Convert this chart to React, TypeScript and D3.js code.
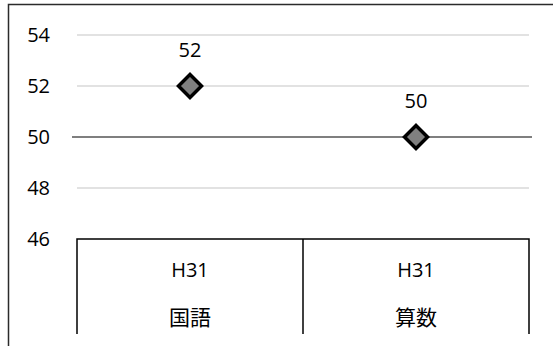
import React from 'react';
import { scaleBand, scaleLinear } from 'd3';

const years = ['H31', 'H31'];
const subjects = ['国語', '算数'];
const scores = [52, 50];
const yTicks = [46, 48, 50, 52, 54];

const W = 553;
const H = 346;
const font = "'Open Sans','Noto Sans CJK JP',sans-serif";
const cjk = "'Noto Sans CJK JP',sans-serif";

export default function App() {
  const keys = subjects.map((s, i) => `${i}`);
  const x = scaleBand().domain(keys).range([77, 529]).padding(0);
  const y = scaleLinear().domain([46, 54]).range([239, 35]);
  const boxTop = y(46);
  const boxBottom = 334;

  return (
    <svg width={W} height={H} style={{ position: 'absolute', left: 0, top: 0, background: '#fff' }}>
      <rect x={8.5} y={4.5} width={W + 10} height={H + 10} fill="#fff" stroke="#2b2b2b" strokeWidth={1.5} />
      {/* gridlines */}
      {yTicks.filter(t => t !== 46).map(t => (
        <line key={t} x1={t === 50 ? 72 : 77} x2={t === 50 ? 532 : 529} y1={y(t)} y2={y(t)}
          stroke={t === 50 ? '#000' : '#d9d9d9'} strokeWidth={t === 50 ? 1.2 : 1.5} />
      ))}
      {/* y labels */}
      {yTicks.map(t => (
        <text key={t} x={50} y={y(t) + 7} textAnchor="end" fontFamily={font} fontSize={20} fill="#000">{t}</text>
      ))}
      {/* category table */}
      <path d={`M${x('0')},${boxBottom}V${boxTop}H${(x('1') as number) + x.bandwidth()}V${boxBottom}`}
        fill="none" stroke="#000" strokeWidth={1.5} />
      <line x1={x('1')} x2={x('1')} y1={boxTop} y2={boxBottom} stroke="#000" strokeWidth={1.5} />
      {keys.map((k, i) => {
        const cx = (x(k) as number) + x.bandwidth() / 2;
        return (
          <g key={k}>
            <text x={cx} y={277} textAnchor="middle" fontFamily={font} fontSize={20}>{years[i]}</text>
            <text x={cx} y={325} textAnchor="middle" fontFamily={cjk} fontSize={21}>{subjects[i]}</text>
          </g>
        );
      })}
      {/* markers */}
      {keys.map((k, i) => {
        const cx = (x(k) as number) + x.bandwidth() / 2;
        const cy = y(scores[i]);
        const r = 11.5;
        return (
          <g key={k}>
            <path d={`M${cx},${cy - r}L${cx + r},${cy}L${cx},${cy + r}L${cx - r},${cy}Z`}
              fill="#808080" stroke="#000" strokeWidth={3.5} strokeLinejoin="miter" />
            <text x={cx} y={cy - 29} textAnchor="middle" fontFamily={font} fontSize={20}>{scores[i]}</text>
          </g>
        );
      })}
    </svg>
  );
}
